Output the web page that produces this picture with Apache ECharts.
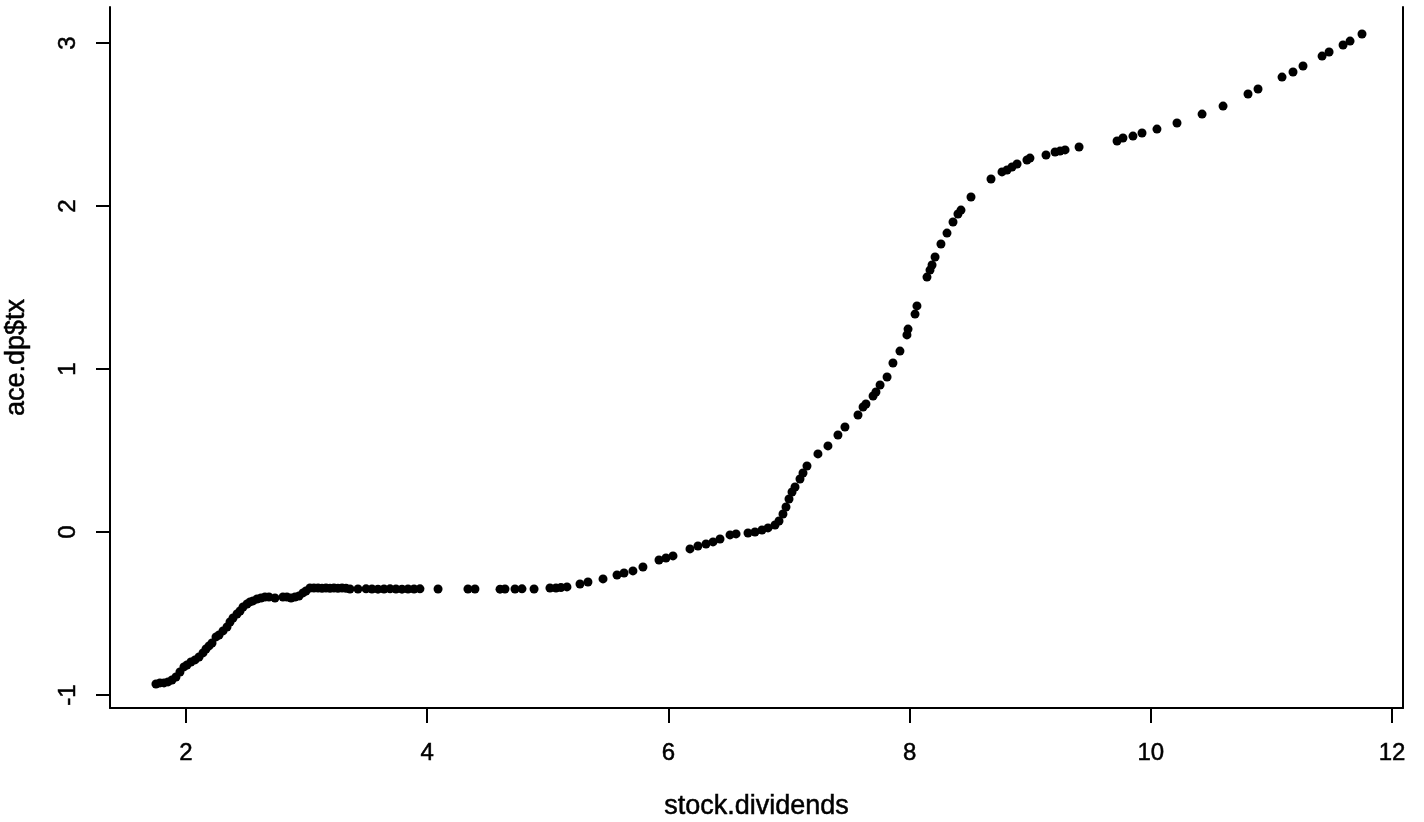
<!DOCTYPE html>
<html>
<head>
<meta charset="utf-8">
<script src="https://cdn.jsdelivr.net/npm/echarts@6/dist/echarts.min.js"></script>
<style>
  html, body { margin: 0; padding: 0; background: #fff; }
  #main { width: 1424px; height: 822px; }
</style>
</head>
<body>
<div id="main"></div>
<script>
// values
var dividends = [
    1.751,1.784,1.818,1.851,1.884,1.917,1.950,1.983,2.008,2.041,
    2.075,2.108,2.141,2.166,2.191,2.216,2.249,2.274,2.307,2.340,
    2.365,2.390,2.423,2.448,2.473,2.506,2.531,2.556,2.589,2.622,
    2.655,2.688,2.738,2.804,2.837,2.871,2.904,2.937,2.970,2.995,
    3.028,3.061,3.095,3.128,3.161,3.194,3.227,3.260,3.294,3.327,
    3.360,3.426,3.493,3.542,3.592,3.642,3.692,3.741,3.791,3.841,
    3.891,3.940,4.090,4.338,4.396,4.604,4.645,4.728,4.786,4.886,
    5.018,5.068,5.109,5.159,5.267,5.333,5.458,5.574,5.632,5.706,
    5.789,5.922,5.980,6.038,6.179,6.245,6.312,6.370,6.428,6.511,
    6.561,6.660,6.718,6.776,6.826,6.884,6.917,6.950,6.975,7.000,
    7.025,7.050,7.091,7.116,7.149,7.240,7.323,7.406,7.464,7.572,
    7.614,7.638,7.697,7.721,7.755,7.813,7.862,7.920,7.978,7.987,
    8.045,8.061,8.144,8.169,8.186,8.211,8.260,8.310,8.360,8.401,
    8.426,8.509,8.675,8.766,8.808,8.849,8.891,8.973,8.998,9.131,
    9.206,9.247,9.289,9.405,9.720,9.769,9.852,9.927,10.051,10.217,
    10.425,10.599,10.806,10.889,11.088,11.179,11.262,11.420,11.478,11.594,
    11.652,11.751
];
var tx = [
    -0.933,-0.926,-0.926,-0.920,-0.908,-0.890,-0.859,-0.828,-0.816,-0.798,
    -0.785,-0.767,-0.742,-0.718,-0.699,-0.681,-0.644,-0.632,-0.607,-0.583,
    -0.552,-0.528,-0.503,-0.485,-0.460,-0.442,-0.429,-0.423,-0.411,-0.405,
    -0.399,-0.399,-0.405,-0.399,-0.399,-0.405,-0.399,-0.393,-0.374,-0.362,
    -0.344,-0.344,-0.344,-0.345,-0.344,-0.346,-0.344,-0.345,-0.344,-0.346,
    -0.350,-0.350,-0.349,-0.350,-0.351,-0.350,-0.349,-0.350,-0.351,-0.350,
    -0.350,-0.349,-0.350,-0.350,-0.350,-0.351,-0.350,-0.350,-0.349,-0.350,
    -0.344,-0.344,-0.341,-0.337,-0.319,-0.307,-0.288,-0.264,-0.252,-0.239,
    -0.215,-0.172,-0.160,-0.147,-0.104,-0.086,-0.074,-0.061,-0.043,-0.018,
    -0.012,-0.006,0.000,0.012,0.025,0.043,0.067,0.110,0.153,0.202,
    0.245,0.276,0.325,0.362,0.405,0.479,0.528,0.595,0.644,0.718,
    0.767,0.785,0.834,0.859,0.902,0.951,1.037,1.110,1.209,1.245,
    1.337,1.387,1.564,1.607,1.638,1.687,1.767,1.834,1.902,1.951,
    1.975,2.055,2.166,2.209,2.221,2.239,2.258,2.282,2.294,2.313,
    2.331,2.337,2.344,2.362,2.399,2.417,2.429,2.448,2.472,2.509,
    2.564,2.613,2.687,2.718,2.791,2.822,2.859,2.920,2.945,2.988,
    3.012,3.055
];
var xTicks = [2, 4, 6, 8, 10, 12];
var yTicks = [-1, 0, 1, 2, 3];

var points = [];
for (var i = 0; i < dividends.length; i++) {
    points.push([dividends[i], tx[i]]);
}

var font = '"Liberation Sans", Arial, Helvetica, sans-serif';
var axisLine = { show: true, onZero: false, lineStyle: { color: '#000', width: 2 } };
var txt = { color: '#000', fontFamily: font, textBorderColor: '#000', textBorderWidth: 0.5 };

var chart = echarts.init(document.getElementById('main'));
chart.setOption({
    animation: false,
    backgroundColor: '#fff',
    grid: { left: 110, right: 21, top: 7, bottom: 114, outerBoundsMode: 'none', containLabel: false },
    xAxis: {
        type: 'value',
        min: 1.370,
        max: 12.091,
        name: 'stock.dividends',
        nameLocation: 'middle',
        nameGap: 85,
        nameTextStyle: Object.assign({ fontSize: 27 }, txt),
        axisLine: axisLine,
        axisTick: { show: true, length: 15, lineStyle: { color: '#000', width: 2 }, customValues: xTicks },
        axisLabel: Object.assign({ fontSize: 24, margin: 33, customValues: xTicks }, txt),
        splitLine: { show: false }
    },
    yAxis: [{
        type: 'value',
        min: -1.080,
        max: 3.221,
        name: 'ace.dp$tx',
        nameLocation: 'middle',
        nameGap: 80,
        nameTextStyle: Object.assign({ fontSize: 27 }, txt),
        axisLine: axisLine,
        axisTick: { show: true, length: 14, lineStyle: { color: '#000', width: 2 }, customValues: yTicks },
        axisLabel: Object.assign({ fontSize: 24, margin: 30, rotate: 90, customValues: yTicks }, txt),
        splitLine: { show: false }
    }, {
        type: 'value',
        position: 'right',
        min: -1.080,
        max: 3.221,
        axisLine: axisLine,
        axisTick: { show: false },
        axisLabel: { show: false },
        splitLine: { show: false }
    }],
    series: [{
        type: 'scatter',
        symbol: 'circle',
        symbolSize: 9,
        itemStyle: { color: '#000', opacity: 1 },
        data: points
    }]
});
</script>
</body>
</html>
